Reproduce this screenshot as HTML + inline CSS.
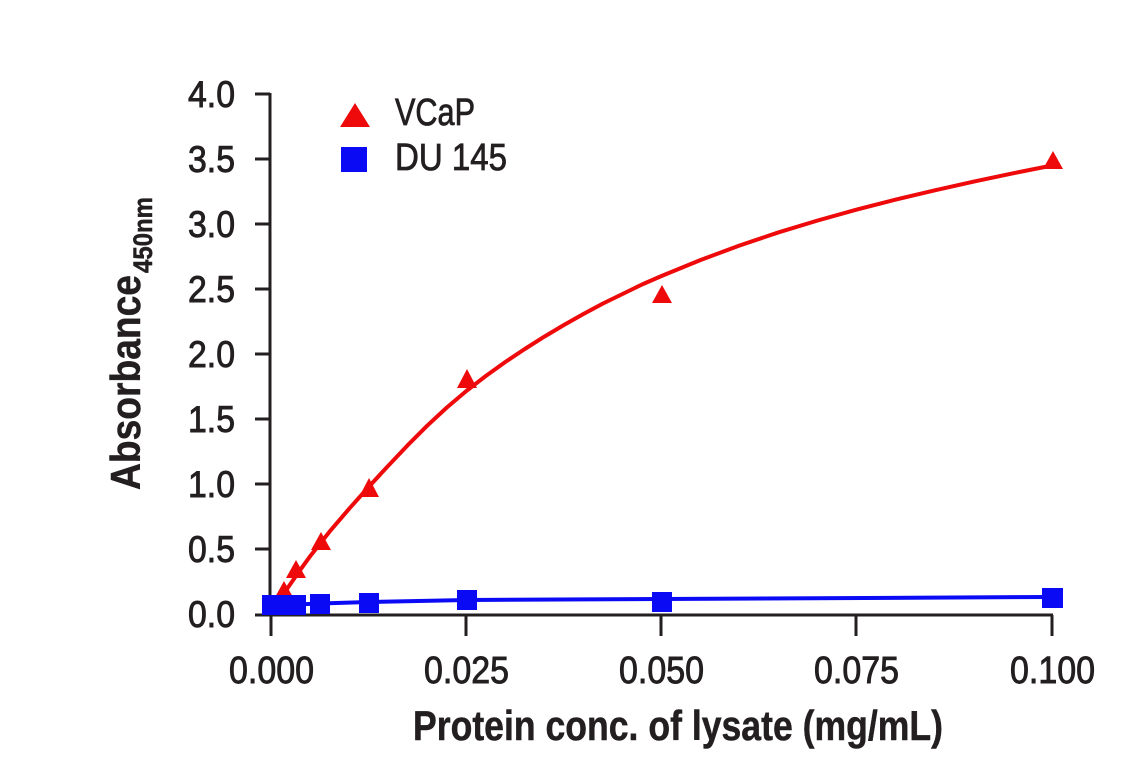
<!DOCTYPE html>
<html>
<head>
<meta charset="utf-8">
<style>
html,body{margin:0;padding:0;background:#fff;}
svg{display:block;}
text{font-family:"Liberation Sans",Arial,sans-serif;fill:#231f20;}
</style>
</head>
<body>
<svg width="1141" height="768" viewBox="0 0 1141 768" xmlns="http://www.w3.org/2000/svg">
<rect width="1141" height="768" fill="#fff"/>
<!-- axes -->
<g stroke="#231f20" stroke-width="3" fill="none">
<line x1="270" y1="93" x2="270" y2="616"/>
<line x1="255" y1="615" x2="1053" y2="615"/>
<line x1="255" y1="94" x2="270" y2="94"/>
<line x1="255" y1="159" x2="270" y2="159"/>
<line x1="255" y1="224" x2="270" y2="224"/>
<line x1="255" y1="289" x2="270" y2="289"/>
<line x1="255" y1="354" x2="270" y2="354"/>
<line x1="255" y1="419" x2="270" y2="419"/>
<line x1="255" y1="484" x2="270" y2="484"/>
<line x1="255" y1="549" x2="270" y2="549"/>
<line x1="271" y1="615" x2="271" y2="636"/>
<line x1="466" y1="615" x2="466" y2="636"/>
<line x1="661" y1="615" x2="661" y2="636"/>
<line x1="856" y1="615" x2="856" y2="636"/>
<line x1="1052" y1="615" x2="1052" y2="636"/>
</g>
<!-- y tick labels -->
<g font-size="37" text-anchor="end" stroke="#231f20" stroke-width="0.9">
<text x="235" y="107" textLength="47" lengthAdjust="spacingAndGlyphs">4.0</text>
<text x="235" y="172" textLength="47" lengthAdjust="spacingAndGlyphs">3.5</text>
<text x="235" y="237" textLength="47" lengthAdjust="spacingAndGlyphs">3.0</text>
<text x="235" y="302" textLength="47" lengthAdjust="spacingAndGlyphs">2.5</text>
<text x="235" y="367" textLength="47" lengthAdjust="spacingAndGlyphs">2.0</text>
<text x="235" y="432" textLength="47" lengthAdjust="spacingAndGlyphs">1.5</text>
<text x="235" y="497" textLength="47" lengthAdjust="spacingAndGlyphs">1.0</text>
<text x="235" y="562" textLength="47" lengthAdjust="spacingAndGlyphs">0.5</text>
<text x="235" y="627" textLength="47" lengthAdjust="spacingAndGlyphs">0.0</text>
</g>
<!-- x tick labels -->
<g font-size="38" stroke="#231f20" stroke-width="0.9">
<text x="229" y="683" textLength="85" lengthAdjust="spacingAndGlyphs">0.000</text>
<text x="424" y="683" textLength="85" lengthAdjust="spacingAndGlyphs">0.025</text>
<text x="619" y="683" textLength="85" lengthAdjust="spacingAndGlyphs">0.050</text>
<text x="814" y="683" textLength="85" lengthAdjust="spacingAndGlyphs">0.075</text>
<text x="1010" y="683" textLength="85" lengthAdjust="spacingAndGlyphs">0.100</text>
</g>
<!-- x axis title -->
<text x="413" y="740" font-size="42" font-weight="bold" textLength="530" lengthAdjust="spacingAndGlyphs" stroke="#231f20" stroke-width="0.5">Protein conc. of lysate (mg/mL)</text>
<!-- y axis title -->
<g transform="translate(140,490) rotate(-90)" stroke="#231f20" stroke-width="0.5">
<text x="0" y="0" font-size="42" font-weight="bold" textLength="215" lengthAdjust="spacingAndGlyphs">Absorbance</text>
<text x="217" y="12" font-size="27" font-weight="bold" textLength="76" lengthAdjust="spacingAndGlyphs">450nm</text>
</g>
<!-- legend -->
<polygon points="340,127 370,127 355,103" fill="#ee0a0a"/>
<rect x="341" y="147" width="26" height="25" fill="#0a0af5"/>
<text x="395" y="125" font-size="38" textLength="80" lengthAdjust="spacingAndGlyphs" stroke="#231f20" stroke-width="0.8">VCaP</text>
<text x="395" y="170" font-size="38" textLength="112" lengthAdjust="spacingAndGlyphs" stroke="#231f20" stroke-width="0.8">DU 145</text>
<!-- VCaP curve -->
<polyline fill="none" stroke="#ee0a0a" stroke-width="4" stroke-linejoin="round" stroke-linecap="round"
points="271,613 280.8,598 290.5,583.9 300.3,569.8 310,556.4 329.6,531.6 349.1,508.8 368.6,487 388.2,465.8 407.7,445.2 427.2,425.7 446.7,407.6 466.3,391 485.8,376 505.3,362 524.8,349 544.4,336.6 563.9,325 583.4,314 603,303.5 622.5,294 642,284.5 661.5,276 700.6,260 739.6,245.5 778.7,232.3 817.7,220.5 856.8,209.6 895.8,199.6 934.9,190.3 973.9,181.6 1013,173.3 1052,165.5"/>
<!-- VCaP points -->
<g fill="#ee0a0a">
<polygon points="274,599 294,599 284,581"/>
<polygon points="286,578 306,578 296,560"/>
<polygon points="311,550 331,550 321,532"/>
<polygon points="359,497 379,497 369,478"/>
<polygon points="457,388 477,388 467,369"/>
<polygon points="652,303 672,303 662,285"/>
<polygon points="1043,169 1063,169 1053,151"/>
</g>
<!-- DU145 line -->
<polyline fill="none" stroke="#0a0af5" stroke-width="4" stroke-linejoin="round"
points="271,605 284,605 296,604.5 320,603.5 369,602 467,600 661,599 1052,597"/>
<!-- DU145 points -->
<g fill="#0a0af5">
<rect x="262" y="595" width="20" height="20"/>
<rect x="274" y="595" width="20" height="20"/>
<rect x="286" y="595" width="20" height="20"/>
<rect x="310" y="594" width="20" height="20"/>
<rect x="359" y="593" width="20" height="20"/>
<rect x="457" y="590" width="20" height="20"/>
<rect x="652" y="592" width="20" height="20"/>
<rect x="1042" y="588" width="21" height="20"/>
</g>
</svg>
</body>
</html>
